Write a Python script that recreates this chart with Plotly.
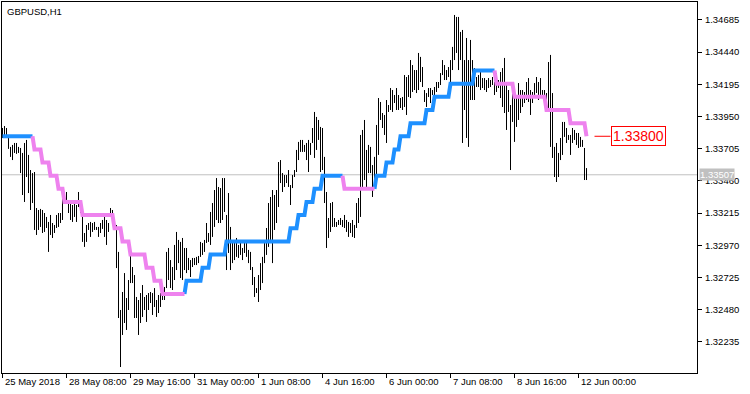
import plotly.graph_objects as go

# ---- data (GBPUSD, H1) ----
bar_high = [
    1.33863, 1.33878, 1.33863, 1.33802, 1.33719, 1.33734, 1.33749, 1.33749, 1.33719, 1.33711,
    1.33673, 1.33749, 1.33772, 1.33658, 1.33543, 1.33520, 1.33528, 1.33254, 1.33239, 1.33247,
    1.33239, 1.33216, 1.33186, 1.33148, 1.33201, 1.33140, 1.33125, 1.33201, 1.33216, 1.33216,
    1.33330, 1.33353, 1.33376, 1.33315, 1.33292, 1.33277, 1.33315, 1.33277, 1.33376, 1.33315,
    1.33186, 1.33064, 1.33125, 1.33140, 1.33148, 1.33140, 1.33148, 1.33110, 1.33110, 1.33140,
    1.33163, 1.33186, 1.33163, 1.33140, 1.33254, 1.33239, 1.33178, 1.33125, 1.32920, 1.32478,
    1.32615, 1.32759, 1.32569, 1.32706, 1.32935, 1.32805, 1.32744, 1.32577, 1.32554, 1.32607,
    1.32668, 1.32577, 1.32592, 1.32607, 1.32615, 1.32607, 1.32645, 1.32554, 1.32592, 1.32607,
    1.32645, 1.32653, 1.32920, 1.32950, 1.32858, 1.32805, 1.32973, 1.33072, 1.33011, 1.32996,
    1.33026, 1.32950, 1.32950, 1.32874, 1.32858, 1.32874, 1.32874, 1.32882, 1.32889, 1.32996,
    1.32988, 1.33011, 1.33140, 1.33064, 1.33224, 1.33292, 1.33391, 1.33482, 1.33414, 1.33406,
    1.33482, 1.33482, 1.33201, 1.33368, 1.33110, 1.32996, 1.32996, 1.33026, 1.32973, 1.32996,
    1.32950, 1.32996, 1.32996, 1.32935, 1.32920, 1.32805, 1.32729, 1.32645, 1.32744, 1.32835,
    1.32882, 1.32988, 1.33102, 1.33292, 1.33338, 1.33391, 1.33353, 1.33391, 1.33604, 1.33619,
    1.33520, 1.33505, 1.33505, 1.33543, 1.33429, 1.33505, 1.33543, 1.33696, 1.33757, 1.33772,
    1.33772, 1.33734, 1.33749, 1.33772, 1.33749, 1.33863, 1.33985, 1.33947, 1.33924, 1.33871,
    1.33863, 1.33643, 1.33376, 1.33178, 1.33292, 1.33300, 1.33178, 1.33148, 1.33163, 1.33178,
    1.33163, 1.33201, 1.33163, 1.33148, 1.33140, 1.33163, 1.33125, 1.33292, 1.33330, 1.33810,
    1.33848, 1.33924, 1.33696, 1.33734, 1.33719, 1.33581, 1.33643, 1.33886, 1.34091, 1.34061,
    1.33977, 1.33962, 1.34076, 1.34038, 1.34167, 1.34152, 1.34114, 1.34167, 1.34114, 1.34091,
    1.34099, 1.34266, 1.34251, 1.34266, 1.34380, 1.34342, 1.34304, 1.34304, 1.34434, 1.34404,
    1.34327, 1.34152, 1.34129, 1.34167, 1.34167, 1.34152, 1.34175, 1.34213, 1.34213, 1.34281,
    1.34380, 1.34342, 1.34304, 1.34327, 1.34380, 1.34480, 1.34723, 1.34708, 1.34708, 1.34594,
    1.34609, 1.34380, 1.34548, 1.34380, 1.34533, 1.34380, 1.34319, 1.34251, 1.34266, 1.34289,
    1.34243, 1.34243, 1.34228, 1.34243, 1.34228, 1.34251, 1.34213, 1.34281, 1.34228, 1.34289,
    1.34319, 1.34396, 1.34205, 1.34152, 1.34038, 1.34152, 1.34114, 1.34091, 1.34205, 1.34152,
    1.34152, 1.34137, 1.34213, 1.34243, 1.34152, 1.34137, 1.34205, 1.34251, 1.34213, 1.34243,
    1.34152, 1.34152, 1.34129, 1.34365, 1.34419, 1.34129, 1.33719, 1.33749, 1.33673, 1.33787,
    1.33909, 1.33909, 1.33863, 1.33810, 1.33810, 1.33863, 1.33848, 1.33825, 1.33825, 1.33795,
    1.33772, 1.33711, 1.33558,
]
bar_low = [
    1.33787, 1.33810, 1.33795, 1.33704, 1.33643, 1.33619, 1.33673, 1.33666, 1.33673, 1.33520,
    1.33353, 1.33300, 1.33490, 1.33368, 1.33239, 1.33292, 1.33087, 1.33049, 1.33087, 1.33110,
    1.33064, 1.33072, 1.33102, 1.32920, 1.33049, 1.33026, 1.33064, 1.33102, 1.33110, 1.33140,
    1.33163, 1.33300, 1.33307, 1.33216, 1.33163, 1.33148, 1.33186, 1.33148, 1.33262, 1.33216,
    1.32996, 1.32958, 1.32996, 1.33087, 1.33034, 1.33072, 1.33087, 1.33087, 1.33034, 1.33064,
    1.33095, 1.33034, 1.32973, 1.33072, 1.33201, 1.33125, 1.33110, 1.32797, 1.32417, 1.32044,
    1.32288, 1.32379, 1.32326, 1.32478, 1.32683, 1.32683, 1.32417, 1.32417, 1.32288, 1.32379,
    1.32425, 1.32478, 1.32387, 1.32478, 1.32531, 1.32440, 1.32501, 1.32425, 1.32455, 1.32501,
    1.32554, 1.32554, 1.32645, 1.32706, 1.32645, 1.32630, 1.32706, 1.32782, 1.32835, 1.32721,
    1.32706, 1.32782, 1.32759, 1.32782, 1.32729, 1.32805, 1.32820, 1.32820, 1.32835, 1.32882,
    1.32897, 1.32920, 1.32988, 1.32996, 1.32973, 1.33034, 1.33110, 1.33163, 1.33140, 1.33140,
    1.33163, 1.33224, 1.32782, 1.32912, 1.32782, 1.32835, 1.32858, 1.32882, 1.32874, 1.32897,
    1.32858, 1.32912, 1.32882, 1.32835, 1.32782, 1.32668, 1.32577, 1.32607, 1.32539, 1.32630,
    1.32683, 1.32835, 1.32897, 1.32958, 1.33011, 1.32835, 1.33087, 1.33140, 1.33262, 1.33444,
    1.33376, 1.33414, 1.33444, 1.33414, 1.33277, 1.33406, 1.33490, 1.33528, 1.33619, 1.33681,
    1.33681, 1.33681, 1.33619, 1.33528, 1.33658, 1.33749, 1.33635, 1.33696, 1.33772, 1.33528,
    1.33543, 1.33292, 1.32950, 1.33026, 1.33072, 1.33110, 1.33110, 1.33110, 1.33125, 1.33125,
    1.33110, 1.33102, 1.33072, 1.33034, 1.33064, 1.33034, 1.33026, 1.33102, 1.33140, 1.33186,
    1.33391, 1.33467, 1.33414, 1.33520, 1.33520, 1.33338, 1.33429, 1.33505, 1.33658, 1.33924,
    1.33863, 1.33810, 1.33749, 1.33985, 1.34000, 1.33985, 1.34053, 1.34000, 1.34000, 1.34015,
    1.34000, 1.34023, 1.33962, 1.34099, 1.34091, 1.34137, 1.34152, 1.34129, 1.34152, 1.34213,
    1.34175, 1.34061, 1.34023, 1.34099, 1.34053, 1.34114, 1.34099, 1.34137, 1.34167, 1.34190,
    1.34266, 1.34228, 1.34228, 1.34251, 1.34213, 1.34304, 1.34380, 1.34434, 1.34304, 1.34380,
    1.33749, 1.34000, 1.33787, 1.33719, 1.34076, 1.34076, 1.34076, 1.34175, 1.34175, 1.34152,
    1.34167, 1.34152, 1.34137, 1.34167, 1.34175, 1.34190, 1.34114, 1.34137, 1.34167, 1.34091,
    1.34023, 1.33977, 1.33848, 1.33985, 1.33543, 1.33909, 1.33757, 1.33871, 1.33924, 1.33977,
    1.34023, 1.34053, 1.34076, 1.34061, 1.33962, 1.34053, 1.34114, 1.34129, 1.34076, 1.34114,
    1.34091, 1.34038, 1.34015, 1.34000, 1.33719, 1.33635, 1.33490, 1.33452, 1.33490, 1.33619,
    1.33658, 1.33795, 1.33749, 1.33772, 1.33658, 1.33749, 1.33772, 1.33734, 1.33711, 1.33719,
    1.33719, 1.33467, 1.33467,
]

# step indicator: segment start bar, level, trend (+1 up / -1 down)
step_start = [0, 16, 20, 24, 28, 31, 40, 56, 60, 64, 72, 76, 80, 92, 100, 104, 112, 144, 148,
              152, 156, 160, 171, 187, 192, 196, 199, 204, 212, 216, 224, 236, 247, 256, 272, 284, 292]
step_level = [1.338, 1.337, 1.336, 1.335, 1.334, 1.333, 1.332, 1.331, 1.330, 1.329, 1.328, 1.327,
              1.326, 1.327, 1.328, 1.329, 1.330, 1.331, 1.332, 1.333, 1.334, 1.335, 1.334, 1.335,
              1.336, 1.337, 1.338, 1.339, 1.340, 1.341, 1.342, 1.343, 1.342, 1.341, 1.340, 1.339, 1.338]
step_trend = [1, -1, -1, -1, -1, -1, -1, -1, -1, -1, -1, -1, -1, 1, 1, 1, 1, 1, 1,
              1, 1, 1, -1, 1, 1, 1, 1, 1, 1, 1, 1, 1, -1, -1, -1, -1, -1]

time_tick_bar = [0, 32, 64, 96, 128, 160, 192, 224, 256, 288]
time_tick_text = ["25 May 2018", "28 May 08:00", "29 May 16:00", "31 May 00:00", "1 Jun 08:00",
                  "4 Jun 16:00", "6 Jun 00:00", "7 Jun 08:00", "8 Jun 16:00", "12 Jun 00:00"]
price_ticks = [1.34685, 1.34440, 1.34195, 1.33950, 1.33705, 1.33460, 1.33215,
               1.32970, 1.32725, 1.32480, 1.32235]
bid_price = 1.33507
symbol_text = "GBPUSD,H1"

# ---- build ----
n = len(bar_high)
bx, by = [], []
for i in range(n):
    bx += [i, i, None]
    by += [bar_low[i], bar_high[i], None]

level = [None] * n
trend = [0] * n
bounds = step_start + [n]
for k in range(len(step_start)):
    for i in range(bounds[k], bounds[k + 1]):
        level[i] = step_level[k]
        trend[i] = step_trend[k]

up = [None] * n
dn = [None] * n
for i in range(n):
    if trend[i] == 1:
        up[i] = level[i]
        if i > 0 and trend[i - 1] != 1:
            up[i - 1] = level[i - 1]
    else:
        dn[i] = level[i]
        if i > 0 and trend[i - 1] != -1:
            dn[i - 1] = level[i - 1]

xs = list(range(n))
FONT = "Liberation Sans, Arial, sans-serif"
FS = 9.5

fig = go.Figure()
fig.add_trace(go.Scatter(x=bx, y=by, mode="lines", line=dict(color="black", width=1),
                         hoverinfo="skip", showlegend=False, connectgaps=False))
fig.add_trace(go.Scatter(x=xs, y=up, mode="lines", line=dict(color="#1E90FF", width=4),
                         showlegend=False, connectgaps=False))
fig.add_trace(go.Scatter(x=xs, y=dn, mode="lines", line=dict(color="#EE82EE", width=4),
                         showlegend=False, connectgaps=False))

signal_price = step_level[-1]
last_bar = n - 1

shapes = [
    dict(type="line", xref="paper", x0=0, x1=1, yref="y", y0=bid_price, y1=bid_price,
         line=dict(color="#C0C0C0", width=1), layer="below"),
    dict(type="line", xref="x", x0=last_bar + 4, x1=last_bar + 12, yref="y",
         y0=signal_price, y1=signal_price, line=dict(color="red", width=1)),
]

annotations = [
    dict(text=symbol_text, xref="paper", yref="paper", x=0, y=1, xanchor="left", yanchor="top",
         xshift=3, yshift=-2, showarrow=False, font=dict(family=FONT, size=FS, color="black")),
    dict(text=f"{bid_price:.5f}", xref="paper", yref="y", x=1, y=bid_price, xanchor="left",
         yanchor="middle", xshift=2, showarrow=False, bgcolor="#C0C0C0", borderpad=0,
         font=dict(family=FONT, size=FS, color="white")),
    dict(text=f"{signal_price:.5f}", xref="x", yref="y", x=last_bar + 12.2, y=signal_price,
         xanchor="left", yanchor="middle", showarrow=False, bgcolor="white", bordercolor="red",
         borderwidth=1, borderpad=1, font=dict(family=FONT, size=14, color="red")),
]
for b, t in zip(time_tick_bar, time_tick_text):
    annotations.append(dict(text=t, xref="x", yref="paper", x=b, y=0, xanchor="left",
                            yanchor="top", xshift=0, yshift=-1, showarrow=False,
                            font=dict(family=FONT, size=FS, color="black")))

fig.update_layout(
    width=750, height=394,
    margin=dict(l=2, r=53, t=2, b=21),
    paper_bgcolor="white", plot_bgcolor="white",
    font=dict(family=FONT, size=FS, color="black"),
    showlegend=False,
    shapes=shapes, annotations=annotations,
    xaxis=dict(range=[-0.25, 347.25], showline=True, linecolor="black", linewidth=1, mirror=True,
               ticks="outside", ticklen=4, tickcolor="black", tickvals=time_tick_bar,
               showticklabels=False, showgrid=False, zeroline=False, fixedrange=True),
    yaxis=dict(range=[1.319985, 1.348218], side="right", showline=True, linecolor="black",
               linewidth=1, mirror=True, ticks="outside", ticklen=4, tickcolor="black",
               tickvals=price_ticks, ticktext=[f"{v:.5f}" for v in price_ticks],
               tickfont=dict(family=FONT, size=FS, color="black"), ticklabelstandoff=1,
               showgrid=False, zeroline=False, fixedrange=True),
)

fig.write_html("out.html", config={"displayModeBar": False},
               post_script="document.body.style.margin='0';")
